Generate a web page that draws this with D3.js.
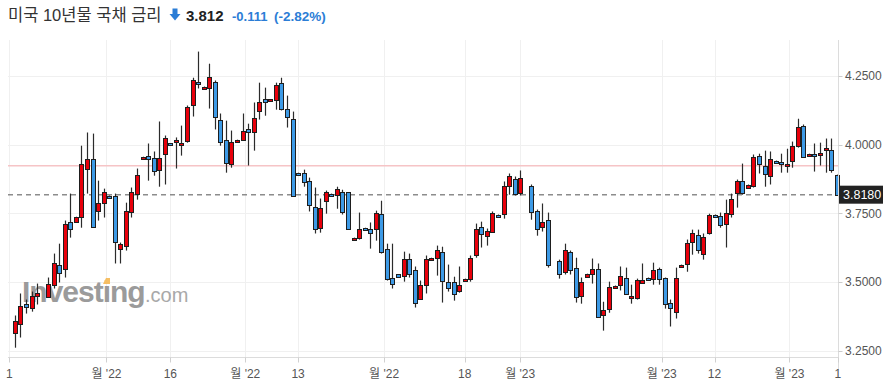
<!DOCTYPE html>
<html>
<head>
<meta charset="utf-8">
<script src="https://cdn.jsdelivr.net/npm/d3@7"></script>
<style>
  body { margin: 0; background: #fff; }
  svg { display: block; font-family: "Liberation Sans", Arial, "Noto Sans CJK KR", sans-serif; }
</style>
</head>
<body>
<svg id="chart" width="895" height="387"></svg>
<script>
// daily candles (150 sessions)
const opens = [
  3.317, 3.317, 3.350, 3.419, 3.408, 3.448, 3.459, 3.448, 3.491, 3.564,
  3.549, 3.717, 3.720, 3.738, 3.912, 3.949, 3.757, 3.786, 3.815, 3.815,
  3.618, 3.629, 3.753, 3.822, 3.949, 3.960, 3.953, 3.909, 3.967, 4.004,
  4.007, 4.000, 4.015, 4.145, 4.229, 4.204, 4.207, 4.229, 4.091, 4.015,
  3.931, 4.011, 4.018, 4.058, 4.047, 4.120, 4.167, 4.156, 4.164, 4.225,
  4.131, 4.094, 3.898, 3.895, 3.869, 3.775, 3.698, 3.793, 3.822, 3.818,
  3.829, 3.826, 3.655, 3.662, 3.698, 3.695, 3.695, 3.749, 3.622, 3.517,
  3.528, 3.524, 3.586, 3.546, 3.440, 3.491, 3.582, 3.589, 3.611, 3.502,
  3.499, 3.470, 3.506, 3.513, 3.600, 3.702, 3.669, 3.684, 3.746, 3.749,
  3.851, 3.876, 3.826, 3.880, 3.851, 3.760, 3.702, 3.727, 3.560, 3.578,
  3.538, 3.611, 3.553, 3.448, 3.520, 3.531, 3.549, 3.382, 3.404, 3.480,
  3.491, 3.517, 3.444, 3.444, 3.499, 3.517, 3.513, 3.549, 3.517, 3.426,
  3.393, 3.557, 3.568, 3.644, 3.673, 3.604, 3.680, 3.746, 3.742, 3.713,
  3.749, 3.822, 3.866, 3.844, 3.851, 3.960, 3.924, 3.887, 3.942, 3.935,
  3.924, 3.942, 3.996, 4.069, 3.960, 3.967, 3.964, 3.982, 3.982, 3.891
]
const highs = [
  3.317, 3.379, 3.459, 3.437, 3.466, 3.495, 3.459, 3.517, 3.604, 3.640,
  3.724, 3.822, 3.738, 3.996, 4.044, 4.040, 3.869, 3.840, 3.815, 3.822,
  3.644, 3.789, 3.844, 3.913, 3.956, 4.004, 3.975, 4.084, 4.033, 4.004,
  4.026, 4.069, 4.142, 4.243, 4.338, 4.211, 4.294, 4.233, 4.113, 4.087,
  4.051, 4.018, 4.113, 4.076, 4.153, 4.225, 4.207, 4.164, 4.225, 4.243,
  4.178, 4.120, 3.898, 3.909, 3.880, 3.844, 3.804, 3.833, 3.822, 3.847,
  3.836, 3.826, 3.662, 3.753, 3.698, 3.717, 3.760, 3.796, 3.640, 3.640,
  3.528, 3.611, 3.604, 3.557, 3.506, 3.597, 3.589, 3.633, 3.629, 3.564,
  3.520, 3.557, 3.513, 3.597, 3.713, 3.720, 3.695, 3.757, 3.746, 3.866,
  3.895, 3.884, 3.906, 3.880, 3.855, 3.764, 3.786, 3.753, 3.560, 3.582,
  3.640, 3.615, 3.589, 3.517, 3.531, 3.586, 3.568, 3.429, 3.502, 3.488,
  3.557, 3.553, 3.491, 3.513, 3.568, 3.517, 3.571, 3.553, 3.517, 3.437,
  3.553, 3.564, 3.655, 3.691, 3.691, 3.677, 3.749, 3.746, 3.753, 3.800,
  3.822, 3.873, 3.931, 3.855, 3.964, 3.967, 3.978, 3.975, 3.942, 3.967,
  3.985, 4.011, 4.094, 4.073, 3.967, 4.004, 4.007, 4.022, 4.022, 3.891
]
const lows = [
  3.317, 3.262, 3.299, 3.386, 3.393, 3.419, 3.459, 3.444, 3.477, 3.499,
  3.517, 3.662, 3.720, 3.698, 3.822, 3.698, 3.724, 3.735, 3.807, 3.568,
  3.568, 3.615, 3.735, 3.800, 3.949, 3.869, 3.887, 3.847, 3.855, 3.996,
  3.913, 3.960, 4.007, 4.102, 4.204, 4.204, 4.131, 4.055, 3.996, 3.898,
  3.916, 4.011, 4.015, 3.924, 3.978, 4.091, 4.105, 4.156, 4.127, 4.124,
  4.062, 3.811, 3.895, 3.847, 3.757, 3.677, 3.680, 3.749, 3.815, 3.767,
  3.746, 3.691, 3.655, 3.655, 3.691, 3.622, 3.651, 3.604, 3.506, 3.477,
  3.517, 3.502, 3.517, 3.408, 3.437, 3.459, 3.582, 3.524, 3.426, 3.466,
  3.433, 3.462, 3.506, 3.502, 3.589, 3.626, 3.633, 3.680, 3.738, 3.731,
  3.818, 3.815, 3.815, 3.880, 3.727, 3.669, 3.684, 3.553, 3.560, 3.513,
  3.528, 3.528, 3.426, 3.422, 3.520, 3.495, 3.371, 3.324, 3.389, 3.480,
  3.470, 3.455, 3.422, 3.437, 3.495, 3.509, 3.491, 3.491, 3.404, 3.339,
  3.368, 3.557, 3.538, 3.600, 3.604, 3.582, 3.673, 3.738, 3.698, 3.626,
  3.735, 3.771, 3.818, 3.844, 3.844, 3.895, 3.847, 3.855, 3.935, 3.898,
  3.898, 3.916, 3.989, 3.956, 3.960, 3.902, 3.924, 3.898, 3.898, 3.818
]
const closes = [
  3.317, 3.360, 3.415, 3.408, 3.451, 3.459, 3.459, 3.495, 3.571, 3.535,
  3.713, 3.691, 3.738, 3.931, 3.949, 3.702, 3.786, 3.826, 3.807, 3.648,
  3.637, 3.757, 3.826, 3.891, 3.956, 3.949, 3.906, 3.953, 4.025, 3.996,
  4.015, 4.007, 4.138, 4.236, 4.222, 4.211, 4.247, 4.102, 4.011, 3.931,
  4.011, 4.018, 4.051, 4.047, 4.098, 4.153, 4.156, 4.164, 4.218, 4.131,
  4.102, 3.815, 3.895, 3.862, 3.782, 3.695, 3.771, 3.826, 3.815, 3.840,
  3.757, 3.691, 3.662, 3.695, 3.691, 3.680, 3.753, 3.611, 3.513, 3.495,
  3.517, 3.586, 3.531, 3.426, 3.491, 3.586, 3.589, 3.618, 3.506, 3.480,
  3.455, 3.491, 3.513, 3.589, 3.695, 3.677, 3.687, 3.753, 3.738, 3.851,
  3.887, 3.822, 3.880, 3.880, 3.757, 3.695, 3.720, 3.564, 3.560, 3.531,
  3.618, 3.546, 3.448, 3.499, 3.531, 3.549, 3.375, 3.400, 3.484, 3.488,
  3.524, 3.459, 3.451, 3.509, 3.509, 3.509, 3.546, 3.513, 3.422, 3.408,
  3.517, 3.564, 3.644, 3.677, 3.618, 3.666, 3.746, 3.738, 3.709, 3.753,
  3.804, 3.866, 3.822, 3.855, 3.956, 3.931, 3.895, 3.949, 3.935, 3.927,
  3.931, 3.996, 4.065, 3.956, 3.967, 3.960, 3.971, 3.989, 3.909, 3.818
]

const yTicks = [3.25, 3.5, 3.75, 4.0, 4.25]
// x ticks sit at candle index positions (half index = month boundary)
const xTickIndex = [0, 17.5, 29, 42.5, 52, 67.5, 82, 92, 117.5, 127, 140.5, 149.2]
const xTickLabels = ["1", "월 '22", "16", "월 '22", "13", "월 '22", "18", "월 '23", "월 '23", "12", "월 '23", "1"]

const prevClose = 3.923
const lastPrice = 3.818

const title = "미국 10년물 국채 금리"
const quote = "3.812"
const change = "-0.111"
const changePct = "(-2.82%)"

const svg = d3.select("#chart")

const plotLeft = 8, plotRight = 838.5, plotTop = 40, plotBottom = 357.5
const n = closes.length

var x = d3.scaleLinear()
  .domain([0, n - 1])
  .range([9.3, 836.7])

var y = d3.scaleLinear()
  .domain([3.25, 4.25])
  .range([351, 75.8])

// header
var head = svg.append("g")
head.append("text")
  .attr("x", 8).attr("y", 21)
  .style("font-size", "16.5px")
  .style("fill", "#333")
  .text(title)

var arrow = head.append("g").attr("fill", "#2b7dd6")
arrow.append("rect").attr("x", 172.5).attr("y", 8.5).attr("width", 5).attr("height", 6)
arrow.append("path").attr("d", "M169.5,14 L180.5,14 L175,20.5 Z")

head.append("text")
  .attr("x", 186).attr("y", 21)
  .style("font-size", "15px").style("font-weight", "bold")
  .style("fill", "#222")
  .text(quote)
head.append("text")
  .attr("x", 232).attr("y", 21)
  .style("font-size", "13px").style("font-weight", "bold")
  .style("fill", "#2b7dd6")
  .text(change)
head.append("text")
  .attr("x", 274).attr("y", 21)
  .style("font-size", "13.5px").style("font-weight", "bold")
  .style("fill", "#2b7dd6")
  .text(changePct)

// grid
svg.append("g").selectAll("line")
  .data(yTicks)
  .enter().append("line")
  .attr("x1", plotLeft).attr("x2", plotRight)
  .attr("y1", d => Math.round(y(d)) + 0.5)
  .attr("y2", d => Math.round(y(d)) + 0.5)
  .attr("stroke", "#f0f0f0")

svg.append("g").selectAll("line")
  .data(xTickIndex)
  .enter().append("line")
  .attr("x1", d => Math.round(x(d)) + 0.5)
  .attr("x2", d => Math.round(x(d)) + 0.5)
  .attr("y1", plotTop).attr("y2", plotBottom)
  .attr("stroke", "#f0f0f0")

// watermark
var wm = svg.append("g").attr("opacity", 0.85)
wm.append("text")
  .attr("x", 22).attr("y", 302)
  .style("font-size", "30px").style("font-weight", "bold")
  .style("letter-spacing", "-1px")
  .style("fill", "#8a8a8a")
  .text("Investing")
wm.append("text")
  .attr("x", 145).attr("y", 302)
  .style("font-size", "20px")
  .style("fill", "#9a9a9a")
  .text(".com")
wm.append("path")
  .attr("d", "M103,284 L106,278 L110,278 L110,284 Z")
  .attr("fill", "#f5b54a")

// previous close and last price lines
svg.append("line")
  .attr("x1", plotLeft).attr("x2", plotRight)
  .attr("y1", y(prevClose)).attr("y2", y(prevClose))
  .attr("stroke", "#f6c4c6").attr("stroke-width", 1.5)

svg.append("line")
  .attr("x1", plotLeft).attr("x2", plotRight)
  .attr("y1", y(lastPrice)).attr("y2", y(lastPrice))
  .attr("stroke", "#8c8c8c").attr("stroke-width", 1.5)
  .attr("stroke-dasharray", "5,4")

// candles
var idx = d3.range(n)
var candles = svg.append("g")

candles.selectAll(".wick")
  .data(idx)
  .enter().append("line")
  .attr("class", "wick")
  .attr("x1", i => Math.round(x(i)) + 0.5)
  .attr("x2", i => Math.round(x(i)) + 0.5)
  .attr("y1", i => y(highs[i]))
  .attr("y2", i => y(lows[i]))
  .attr("stroke", "#2b2b2b")
  .attr("stroke-width", 1.2)

candles.selectAll(".body")
  .data(idx)
  .enter().append("rect")
  .attr("class", "body")
  .attr("x", i => Math.round(x(i)) - 1.5)
  .attr("width", 4)
  .attr("y", i => Math.round(y(Math.max(opens[i], closes[i]))) + 0.5)
  .attr("height", function(i) {
    var h = Math.round(Math.abs(y(opens[i]) - y(closes[i])))
    if (opens[i] === closes[i]) return 0
    return Math.max(h, 2)
  })
  .attr("fill", function(i) {
    if (closes[i] > opens[i]) return "#e8000b"
    else if (closes[i] < opens[i]) return "#3d9ae6"
    return "#2b2b2b"
  })
  .attr("stroke", "#1e1e1e")
  .attr("stroke-width", 1)

// y axis on the right
svg.append("line")
  .attr("x1", plotRight).attr("x2", plotRight)
  .attr("y1", plotTop).attr("y2", 370)
  .attr("stroke", "#dcdcdc")

var yAxis = svg.append("g")
yAxis.selectAll("line")
  .data(yTicks)
  .enter().append("line")
  .attr("x1", plotRight).attr("x2", plotRight + 4)
  .attr("y1", d => Math.round(y(d)) + 0.5)
  .attr("y2", d => Math.round(y(d)) + 0.5)
  .attr("stroke", "#ccc")
yAxis.selectAll("text")
  .data(yTicks)
  .enter().append("text")
  .attr("x", 845)
  .attr("y", d => y(d))
  .attr("dy", "0.35em")
  .style("font-size", "12px")
  .style("fill", "#555")
  .text(d => d3.format(".4f")(d))

// last price tag
svg.append("rect")
  .attr("x", 839).attr("y", y(lastPrice) - 9)
  .attr("width", 44).attr("height", 18)
  .attr("fill", "#222")
svg.append("text")
  .attr("x", 843).attr("y", y(lastPrice))
  .attr("dy", "0.36em")
  .style("font-size", "12.5px")
  .style("fill", "#fff")
  .text(d3.format(".4f")(lastPrice))

// x axis
svg.append("line")
  .attr("x1", plotLeft).attr("x2", plotRight)
  .attr("y1", plotBottom).attr("y2", plotBottom)
  .attr("stroke", "#dcdcdc")

var xAxis = svg.append("g")
xAxis.selectAll("line")
  .data(xTickIndex)
  .enter().append("line")
  .attr("x1", d => Math.round(x(d)) + 0.5)
  .attr("x2", d => Math.round(x(d)) + 0.5)
  .attr("y1", plotBottom).attr("y2", plotBottom + 5)
  .attr("stroke", "#d0d0d0")
xAxis.selectAll("text")
  .data(xTickIndex)
  .enter().append("text")
  .attr("x", d => x(d))
  .attr("y", 378)
  .attr("text-anchor", "middle")
  .style("font-size", "12px")
  .style("fill", "#555")
  .text((d, i) => xTickLabels[i])
</script>
</body>
</html>
